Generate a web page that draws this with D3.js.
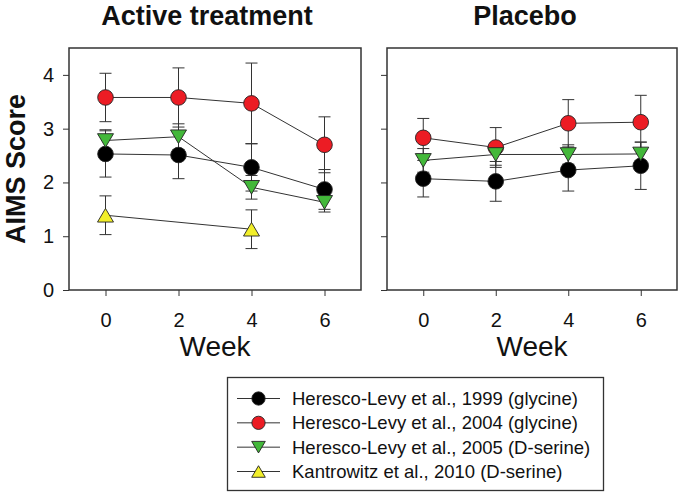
<!DOCTYPE html>
<html><head><meta charset="utf-8">
<script src="https://cdn.jsdelivr.net/npm/d3@7/dist/d3.min.js"></script>
<style>
html,body{margin:0;padding:0;background:#fff;}
svg{display:block;font-family:"Liberation Sans",Arial,Helvetica,sans-serif;}
</style></head>
<body><svg id="c" width="680" height="492"></svg>
<script>
const weeks = [0, 2, 4, 6];
const yTicks = [0, 1, 2, 3, 4];
const xTicks = [0, 2, 4, 6];
const panelTitles = ["Active treatment", "Placebo"];
const seriesNames = [
  "Heresco-Levy et al., 1999 (glycine)",
  "Heresco-Levy et al., 2004 (glycine)",
  "Heresco-Levy et al., 2005 (D-serine)",
  "Kantrowitz et al., 2010 (D-serine)"
];
// Active treatment
const activeWeeks = [weeks, weeks, weeks, [0, 4]];
const activeMean = [
  [2.53, 2.51, 2.28, 1.87],
  [3.58, 3.58, 3.47, 2.70],
  [2.78, 2.85, 1.91, 1.63],
  [1.39, 1.13]
];
const activeErr = [
  [0.43, 0.44, 0.44, 0.37],
  [0.45, 0.55, 0.75, 0.52],
  [0.20, 0.24, 0.22, 0.18],
  [0.36, 0.36]
];
// Placebo
const placeboWeeks = [weeks, weeks, weeks];
const placeboMean = [
  [2.07, 2.02, 2.23, 2.31],
  [2.83, 2.65, 3.10, 3.12],
  [2.41, 2.52, 2.52, 2.53]
];
const placeboErr = [
  [0.34, 0.37, 0.39, 0.44],
  [0.36, 0.37, 0.44, 0.50],
  [0.22, 0.20, 0.18, 0.22]
];

const fills = ["#000000", "#ec1c24", "#43b83a", "#f2ef2a"];
const shapes = ["circle", "circle", "down", "up"];

const svg = d3.select("#c");
const plotTop = 48, plotBottom = 290;
const panels = [
  {x0: 69, x1: 361, titleX: 207, weeks: activeWeeks, mean: activeMean, err: activeErr, labels: true},
  {x0: 387, x1: 677, titleX: 525, weeks: placeboWeeks, mean: placeboMean, err: placeboErr, labels: false}
];
const y = d3.scaleLinear().domain([0, 4.5]).range([plotBottom, plotTop]);

function marker(g, shape, cx, cy, fill, big) {
  const s = big ? 1 : 0.85;
  if (shape === "circle") {
    g.append("circle").attr("cx", cx).attr("cy", cy).attr("r", 7.8 * s)
      .attr("fill", fill).attr("stroke", "#222").attr("stroke-width", 0.9);
  } else {
    const w = 8 * s, h = 6.8 * s;
    const pts = shape === "down"
      ? [[cx - w, cy - h], [cx + w, cy - h], [cx, cy + h]]
      : [[cx - w, cy + h], [cx + w, cy + h], [cx, cy - h]];
    g.append("path").attr("d", "M" + pts.map(p => p.join(",")).join("L") + "Z")
      .attr("fill", fill).attr("stroke", "#222").attr("stroke-width", 0.9);
  }
}

panels.forEach((p, pi) => {
  const x = d3.scaleLinear().domain([-1, 7]).range([p.x0, p.x1]);
  const g = svg.append("g");

  const ya = d3.axisLeft(y).tickValues(yTicks).tickSize(6).tickPadding(9)
    .tickFormat(p.labels ? d3.format("d") : "");
  const yg = g.append("g").attr("transform", `translate(${p.x0},0)`).call(ya);
  yg.select(".domain").remove();
  yg.selectAll("line").attr("stroke", "#333");
  yg.selectAll("text").attr("font-size", 20).attr("fill", "#111")
    .attr("font-family", '"Liberation Sans",Arial,sans-serif');

  const xa = d3.axisBottom(x).tickValues(xTicks).tickSize(6).tickPadding(17).tickFormat(d3.format("d"));
  const xg = g.append("g").attr("transform", `translate(0,${plotBottom})`).call(xa);
  xg.select(".domain").remove();
  xg.selectAll("line").attr("stroke", "#333");
  xg.selectAll("text").attr("font-size", 20).attr("fill", "#111")
    .attr("font-family", '"Liberation Sans",Arial,sans-serif');

  g.append("rect").attr("x", p.x0).attr("y", plotTop).attr("width", p.x1 - p.x0)
    .attr("height", plotBottom - plotTop).attr("fill", "none").attr("stroke", "#333").attr("stroke-width", 1.5);

  g.append("text").attr("x", p.titleX).attr("y", 25).attr("text-anchor", "middle")
    .attr("font-size", 27).attr("font-weight", "bold").attr("fill", "#111").text(panelTitles[pi]);

  g.append("text").attr("x", (p.x0 + p.x1) / 2).attr("y", 356).attr("text-anchor", "middle")
    .attr("font-size", 28).attr("fill", "#111").text("Week");

  p.mean.forEach((m, si) => {
    const pts = m.map((v, i) => [x(p.weeks[si][i]), y(v)]);
    g.append("path").attr("d", d3.line()(pts)).attr("fill", "none")
      .attr("stroke", "#333").attr("stroke-width", 1);
    m.forEach((v, i) => {
      const cx = x(p.weeks[si][i]), e = p.err[si][i];
      g.append("line").attr("x1", cx).attr("x2", cx).attr("y1", y(v - e)).attr("y2", y(v + e))
        .attr("stroke", "#333").attr("stroke-width", 1);
      [v - e, v + e].forEach(t => g.append("line").attr("x1", cx - 6).attr("x2", cx + 6)
        .attr("y1", y(t)).attr("y2", y(t)).attr("stroke", "#333").attr("stroke-width", 1));
    });
  });
  p.mean.forEach((m, si) => {
    m.forEach((v, i) => marker(g, shapes[si], x(p.weeks[si][i]), y(v), fills[si], true));
  });
});

svg.append("text").attr("transform", `translate(25,169) rotate(-90)`).attr("text-anchor", "middle")
  .attr("font-size", 27).attr("font-weight", "bold").attr("fill", "#111").text("AIMS Score");

const lg = svg.append("g");
lg.append("rect").attr("x", 227.5).attr("y", 377.5).attr("width", 376).attr("height", 113)
  .attr("fill", "#fff").attr("stroke", "#333").attr("stroke-width", 1.3);
const rowY = d3.scalePoint().domain(seriesNames).range([398.5, 471.5]);
seriesNames.forEach((n, i) => {
  const cy = rowY(n);
  lg.append("line").attr("x1", 237).attr("x2", 280).attr("y1", cy).attr("y2", cy)
    .attr("stroke", "#333").attr("stroke-width", 1);
  marker(lg, shapes[i], 258.5, cy, fills[i], false);
  lg.append("text").attr("x", 292).attr("y", cy).attr("dy", "0.35em").attr("font-size", 18.5)
    .attr("fill", "#111").text(n);
});
</script></body></html>
